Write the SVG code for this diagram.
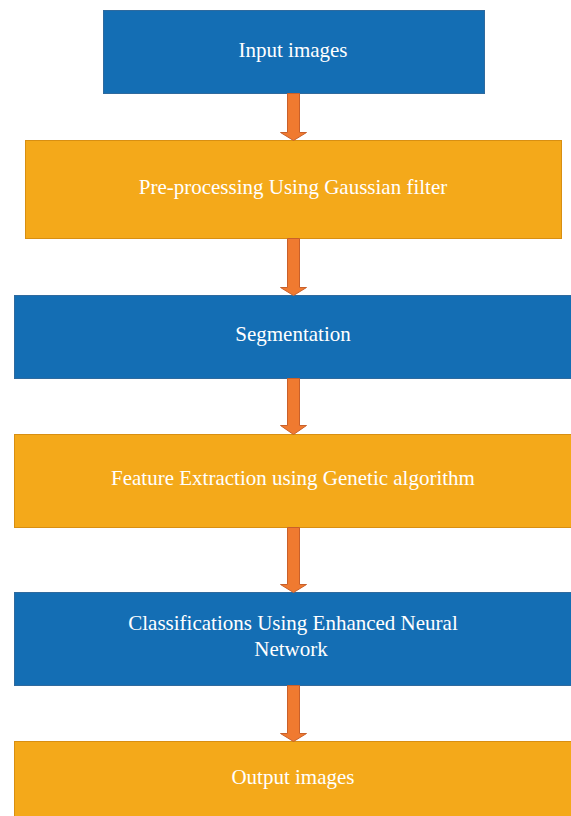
<svg xmlns="http://www.w3.org/2000/svg" width="571" height="816" viewBox="0 0 571 816">
<style>
.blue{fill:#146EB4;stroke:#2F6A9E;stroke-width:1}
.orange{fill:#F4A91A;stroke:#D88F12;stroke-width:1}
.t{font-family:"Liberation Serif","Times New Roman",serif;font-size:21px;fill:#FFFFFF;text-anchor:middle}
.arr{fill:#F07A30;stroke:#C9602A;stroke-width:1}
</style>
<rect width="571" height="816" fill="#FFFFFF"/>
<g id="input"><rect class="blue" x="103.5" y="10.5" width="381" height="83"/><text class="t" x="293" y="57">Input images</text></g>
<g id="preprocessing"><rect class="orange" x="25.5" y="140.5" width="536" height="98"/><text class="t" x="293" y="194">Pre-processing Using Gaussian filter</text></g>
<g id="segmentation"><rect class="blue" x="14.5" y="295.5" width="560" height="83"/><text class="t" x="293" y="341">Segmentation</text></g>
<g id="feature"><rect class="orange" x="14.5" y="434.5" width="560" height="93"/><text class="t" x="293" y="485">Feature Extraction using Genetic algorithm</text></g>
<g id="classification"><rect class="blue" x="14.5" y="592.5" width="560" height="93"/><text class="t" x="293" y="630">Classifications Using Enhanced Neural</text><text class="t" x="291" y="656">Network</text></g>
<g id="output"><rect class="orange" x="14.5" y="741.5" width="560" height="80"/><text class="t" x="293" y="784">Output images</text></g>
<g id="connectors">
<path class="arr" d="M287.5,93.5 H299.5 V132.5 H306.5 L293.5,140.5 L280.5,132.5 H287.5 Z"/>
<path class="arr" d="M287.5,238.5 H299.5 V287.5 H306.5 L293.5,295.5 L280.5,287.5 H287.5 Z"/>
<path class="arr" d="M287.5,378.5 H299.5 V425.5 H306.5 L293.5,434.5 L280.5,425.5 H287.5 Z"/>
<path class="arr" d="M287.5,527.5 H299.5 V584.5 H306.5 L293.5,592.5 L280.5,584.5 H287.5 Z"/>
<path class="arr" d="M287.5,685.5 H299.5 V733.5 H306.5 L293.5,741.5 L280.5,733.5 H287.5 Z"/>
</g>
</svg>
